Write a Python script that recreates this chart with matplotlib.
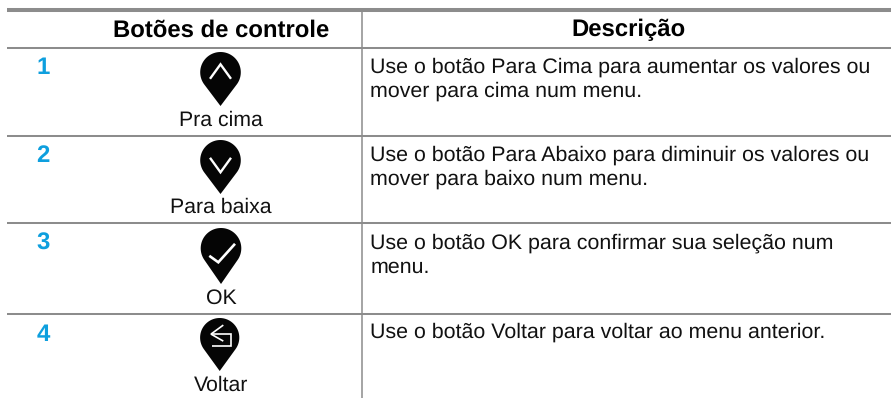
import matplotlib
matplotlib.use("Agg")
import matplotlib.pyplot as plt
from matplotlib.path import Path
from matplotlib.patches import PathPatch
import numpy as np

plt.rcParams['font.family'] = ['Liberation Sans', 'DejaVu Sans']
plt.rcParams['text.hinting'] = 'no_hinting'

W, H = 891, 398
GREY = '#8c8c8c'
BLUE = '#0e9fde'

headers = ["Botões de controle", "Descrição"]
numbers = ["1", "2", "3", "4"]
button_labels = ["Pra cima", "Para baixa", "OK", "Voltar"]
descriptions = [
    ["Use o botão Para Cima para aumentar os valores ou", "mover para cima num menu."],
    ["Use o botão Para Abaixo para diminuir os valores ou", "mover para baixo num menu."],
    ["Use o botão OK para confirmar sua seleção num", "menu."],
    ["Use o botão Voltar para voltar ao menu anterior."],
]
number_y = [74, 162, 250, 341]
label_y = [126, 213, 304, 391]
desc_y = [72.6, 160.6, 248.6, 337.6]
icon_top = [52, 140, 228, 318]
icon_tip = [106, 194, 284, 371]
rule_y = [48, 136, 223, 314]

fig = plt.figure(figsize=(W / 100, H / 100), dpi=100)
ax = fig.add_axes([0, 0, 1, 1])
ax.set_xlim(0, W)
ax.set_ylim(H, 0)
ax.axis('off')

# rules
ax.plot([7, W], [10, 10], color=GREY, lw=2.9, solid_capstyle='butt')
for y in rule_y:
    ax.plot([7, W], [y, y], color=GREY, lw=1.45, solid_capstyle='butt')
ax.plot([362, 362], [10, H], color=GREY, lw=1.1, solid_capstyle='butt')

# headers
ax.text(221, 36.5, headers[0], ha='center', va='baseline', fontsize=17.2, fontweight='bold', color='black')
ax.text(628, 36.5, headers[1], ha='center', va='baseline', fontsize=17.2, fontweight='bold', color='black')


def pin(cx, top, tip, r=20.3):
    cy = top + r
    d = tip - cy
    a = np.arccos(r / d)
    ang = np.linspace(a, 2 * np.pi - a, 60)
    xs = cx + r * np.sin(ang)
    ys = cy + r * np.cos(ang)
    verts = [(cx, tip)] + list(zip(xs, ys)) + [(cx, tip)]
    codes = [Path.MOVETO] + [Path.LINETO] * (len(verts) - 2) + [Path.CLOSEPOLY]
    ax.add_patch(PathPatch(Path(verts, codes), fc='#050505', ec='none'))
    return cy


def glyph(xs, ys, lw=1.5):
    ax.plot(xs, ys, color='white', lw=lw, solid_capstyle='butt', solid_joinstyle='miter')


cx = 220.5
c = pin(cx, icon_top[0], icon_tip[0])
glyph([cx - 10.5, cx, cx + 10.5], [c + 6.5, c - 8, c + 6.5], lw=1.7)
c = pin(cx, icon_top[1], icon_tip[1])
glyph([cx - 10.5, cx, cx + 10.5], [c - 2.5, c + 12, c - 2.5], lw=1.7)
c = pin(cx + 0.5, icon_top[2], icon_tip[2])
glyph([209.3, 218.3, 235], [c + 7.5, c + 14, c - 4.5], lw=1.9)
c = pin(cx - 0.8, icon_top[3], icon_tip[3], r=19.6)
glyph([223.3, 211, 223.3], [c - 12.5, c - 3.5, c + 3.5], lw=1.2)
glyph([211, 230.7, 230.7, 211.7], [c - 3.5, c - 3.5, c + 8.8, c + 8.8], lw=1.2)

# rows
for i, n in enumerate(numbers):
    ax.text(36.5, number_y[i], n, ha='left', va='baseline', fontsize=17.3, fontweight='bold', color=BLUE)
    ax.text(221, label_y[i], button_labels[i], ha='center', va='baseline', fontsize=15.3, color='#111111')
    for j, line in enumerate(descriptions[i]):
        ax.text(370.5, desc_y[i] + j * 24.2, line, ha='left', va='baseline', fontsize=15.4, color='#111111')

fig.savefig('out.png', dpi=100)
